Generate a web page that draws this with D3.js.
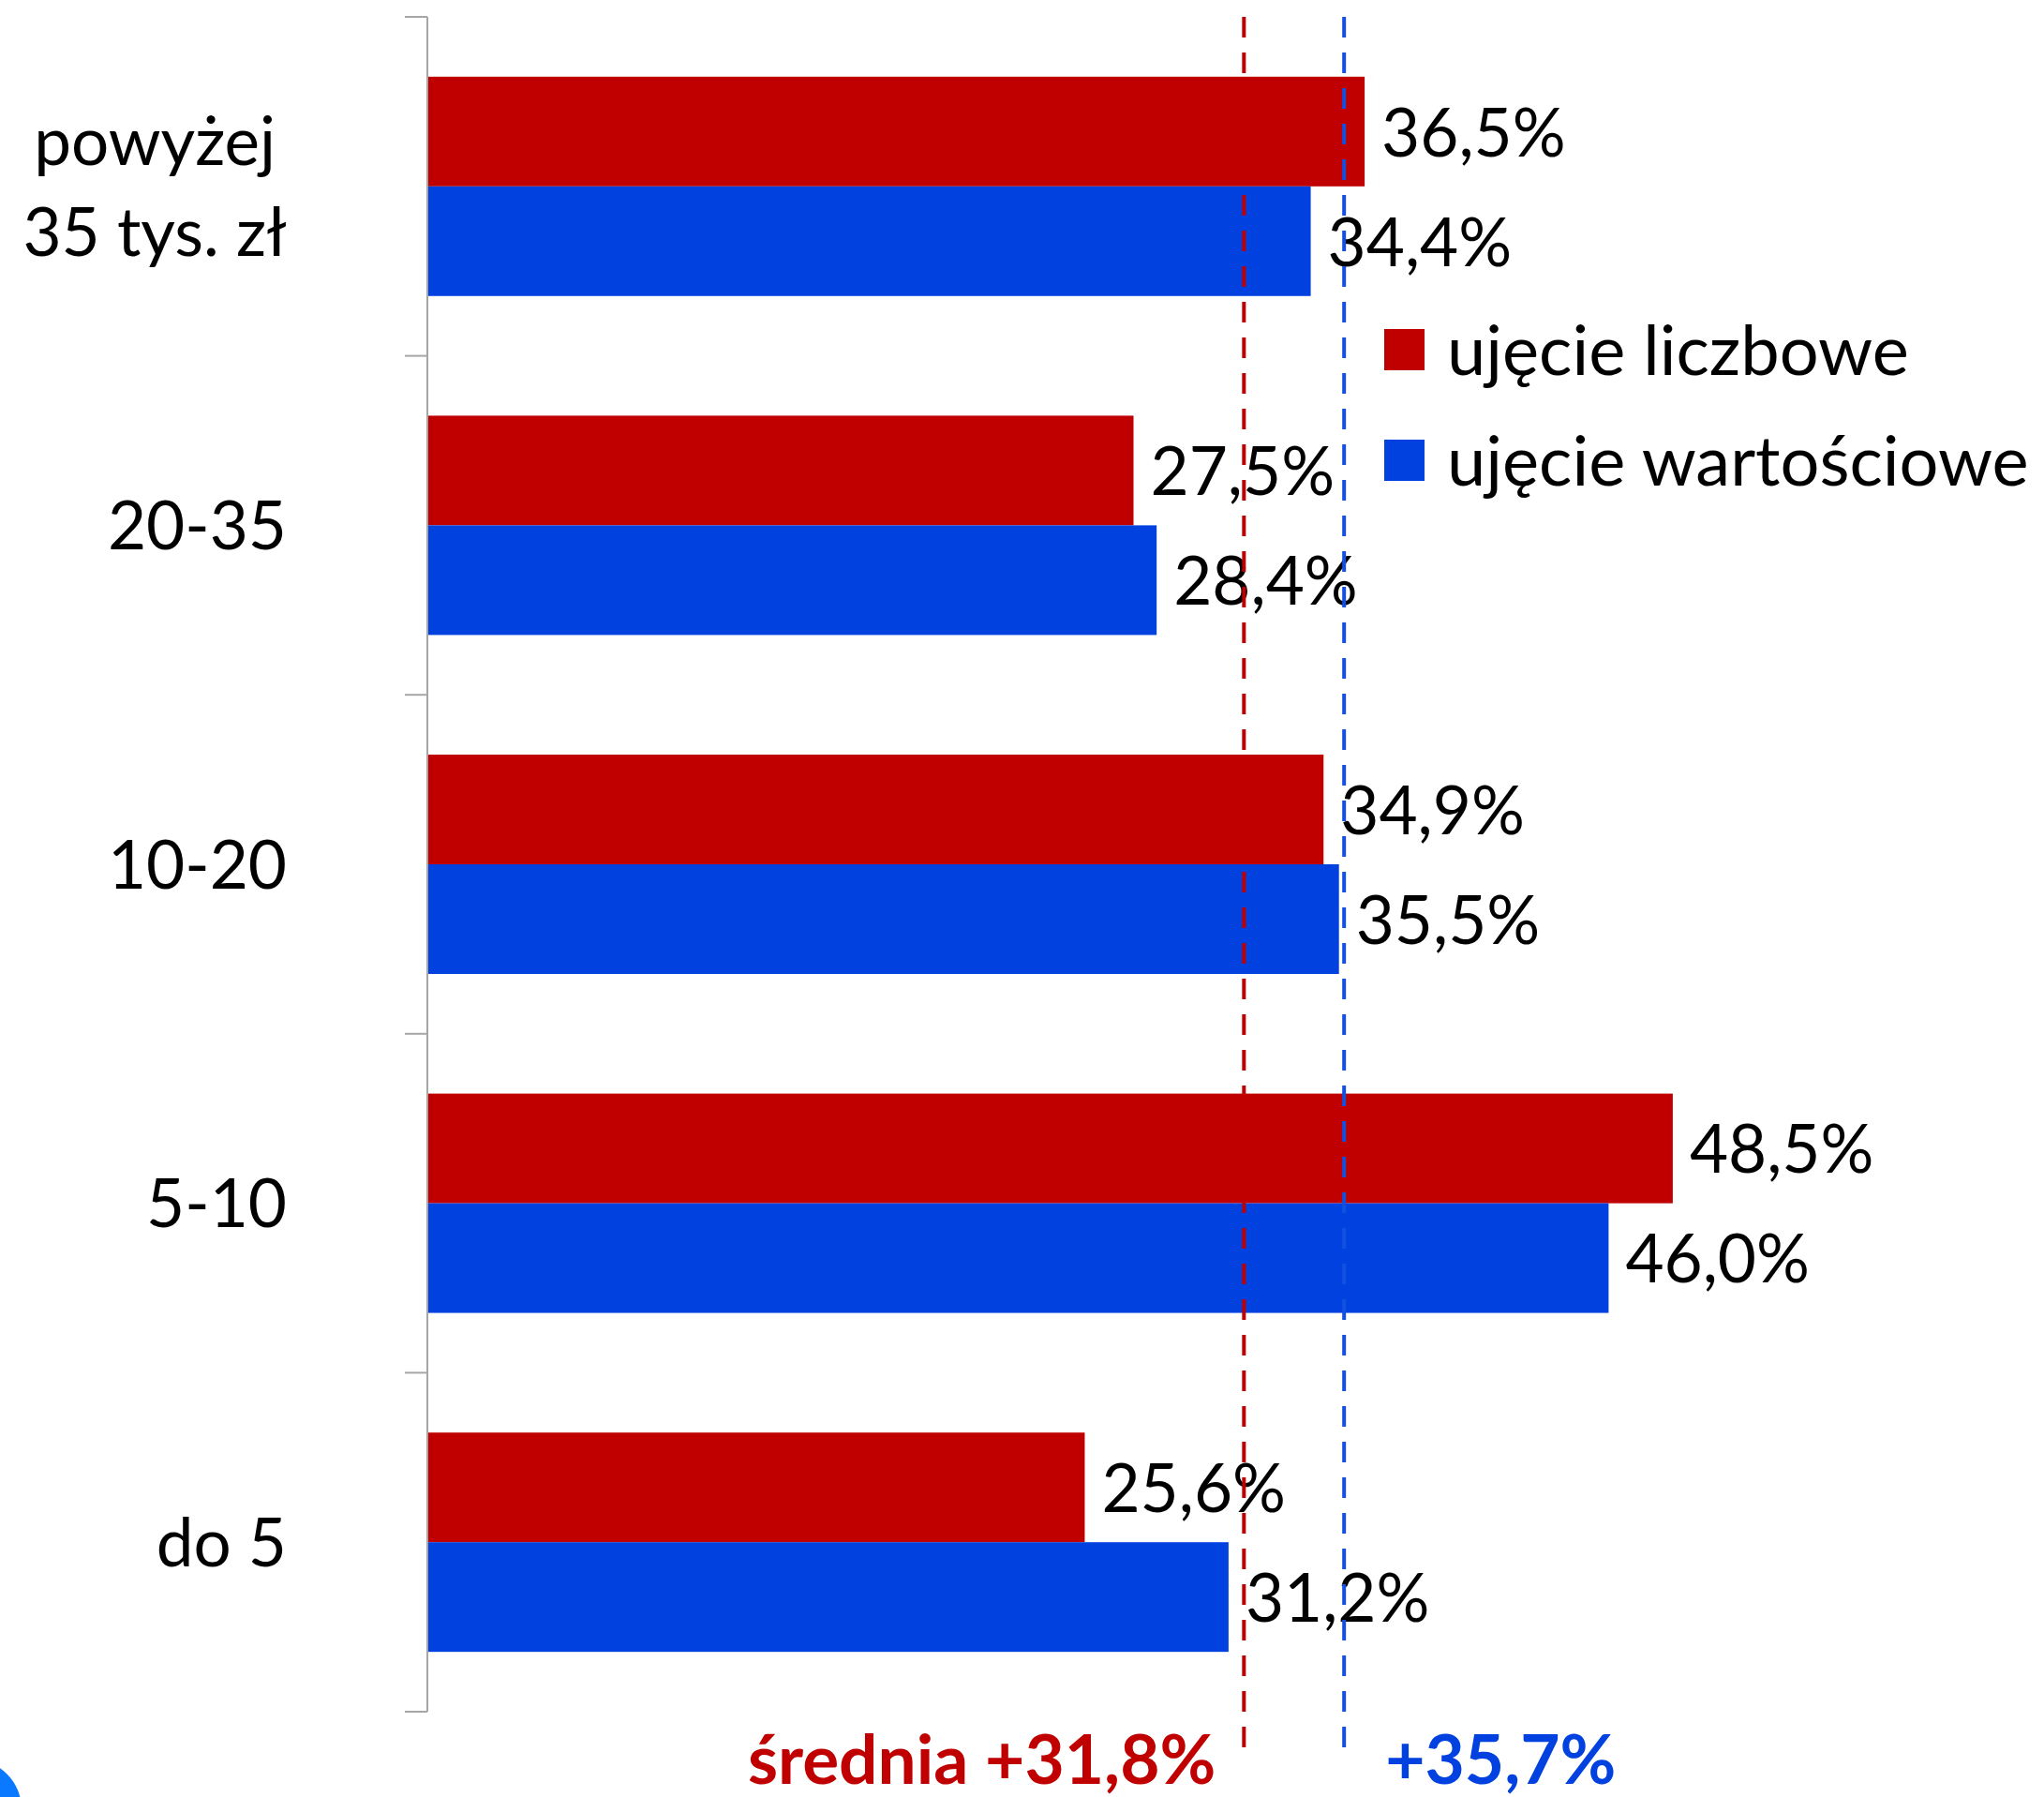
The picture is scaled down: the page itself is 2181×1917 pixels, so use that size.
<!DOCTYPE html>
<html lang="pl">
<head>
<meta charset="utf-8">
<title>Wzrost według przedziałów kwotowych</title>
<script src="https://cdn.jsdelivr.net/npm/d3@7/dist/d3.min.js"></script>
<style>
  html, body { margin: 0; padding: 0; background: #ffffff; }
  svg { display: block; }
  text { font-family: Lato, "Open Sans", "Noto Sans", sans-serif; }
</style>
</head>
<body>
<svg id="chart"></svg>
<script>
// Categories (top to bottom), each split into display lines
const categories = ["powyżej|35 tys. zł", "20-35", "10-20", "5-10", "do 5"];
// Series names
const seriesNames = ["ujęcie liczbowe", "ujęcie wartościowe"];
// Growth in numbers and in value, per category (%)
const countGrowth = [36.5, 27.5, 34.9, 48.5, 25.6];
const valueGrowth = [34.4, 28.4, 35.5, 46.0, 31.2];
// Averages for both series (%)
const averages = [31.8, 35.7];
const averageLabels = ["średnia +31,8%", "+35,7%"];

const colors = ["#c00000", "#0041e0"];
const dashColors = ["#c00000", "#1450e0"];

const W = 2181, H = 1917;
const FS = 71;          // label font size
const svg = d3.select("#chart").attr("width", W).attr("height", H);
svg.append("rect").attr("width", W).attr("height", H).attr("fill", "#ffffff");

const pl = d3.formatLocale({ decimal: ",", thousands: " ", grouping: [3], currency: ["", " zł"] });
const fmt = v => pl.format(".1f")(v) + "%";

const x = d3.scaleLinear().domain([0, 60]).range([456, 456 + 60 * 27.4]);
const y = d3.scaleBand().domain(categories).range([18, 1826])
  .paddingInner(0.353).paddingOuter(0.1765);
const ySub = d3.scaleBand().domain([0, 1]).range([0, y.bandwidth()]);

const rows = categories.map((c, i) => ({ cat: c, vals: [countGrowth[i], valueGrowth[i]] }));

// Bars
const g = svg.append("g");
rows.forEach(r => {
  r.vals.forEach((v, s) => {
    g.append("rect")
      .attr("x", x(0))
      .attr("y", y(r.cat) + ySub(s))
      .attr("width", x(v) - x(0))
      .attr("height", ySub.bandwidth())
      .attr("fill", colors[s]);
  });
});

// Value labels
rows.forEach(r => {
  r.vals.forEach((v, s) => {
    g.append("text")
      .attr("x", x(v) + 18)
      .attr("y", y(r.cat) + ySub(s) + ySub.bandwidth() / 2)
      .attr("dy", "0.37em")
      .attr("font-size", FS)
      .attr("fill", "#000")
      .text(fmt(v));
  });
});

// Category axis: line plus ticks between categories
const step = y.step();
const r0 = y.range()[0];
const axis = svg.append("g").attr("stroke", "#a6a6a6").attr("stroke-width", 2);
axis.append("line").attr("x1", x(0)).attr("x2", x(0)).attr("y1", r0).attr("y2", y.range()[1]);
d3.range(categories.length + 1).forEach(i => {
  axis.append("line").attr("x1", x(0) - 24).attr("x2", x(0))
    .attr("y1", r0 + i * step).attr("y2", r0 + i * step);
});

// Category labels (multi-line labels centred as a block, right aligned)
const labelRight = 306, lineGap = 97;
categories.forEach(c => {
  const lines = c.split("|");
  const cy = y(c) + y.bandwidth() / 2;
  const t = svg.append("text").attr("font-size", FS).attr("fill", "#000");
  if (lines.length === 1) {
    t.attr("x", labelRight).attr("y", cy).attr("dy", "0.36em")
      .attr("text-anchor", "end").text(lines[0]);
  } else {
    // measure widest line to centre lines against the right edge
    const tmp = svg.append("text").attr("font-size", FS);
    const widths = lines.map(l => { tmp.text(l); return tmp.node().getComputedTextLength(); });
    tmp.remove();
    const cx = labelRight - d3.max(widths) / 2;
    t.attr("text-anchor", "middle");
    lines.forEach((l, k) => {
      t.append("tspan").attr("x", cx)
        .attr("y", cy + (k - (lines.length - 1) / 2) * lineGap)
        .attr("dy", "0.36em").text(l);
    });
  }
});

// Legend
const legend = svg.append("g");
seriesNames.forEach((n, s) => {
  const ly = 373 + s * 118;
  legend.append("rect").attr("x", 1477).attr("y", ly - 22).attr("width", 43).attr("height", 44)
    .attr("fill", colors[s]);
  legend.append("text").attr("x", 1544).attr("y", ly).attr("dy", "0.36em")
    .attr("font-size", 74).attr("fill", "#000").text(n);
});

// Average lines (dashed), drawn over bars and labels
averages.forEach((a, s) => {
  svg.append("line")
    .attr("x1", x(a)).attr("x2", x(a))
    .attr("y1", 18).attr("y2", 1864)
    .attr("stroke", dashColors[s]).attr("stroke-width", 4)
    .attr("stroke-dasharray", "22,16");
});

// Average labels
svg.append("text").attr("x", x(averages[0]) - 30).attr("y", 1903)
  .attr("text-anchor", "end").attr("font-size", 73).attr("font-weight", 700)
  .attr("fill", colors[0]).text(averageLabels[0]);
svg.append("text").attr("x", x(averages[1]) + 44).attr("y", 1903)
  .attr("text-anchor", "start").attr("font-size", 73).attr("font-weight", 700)
  .attr("fill", colors[1]).text(averageLabels[1]);

// Corner badge fragment
svg.append("circle").attr("cx", -30).attr("cy", 1930).attr("r", 53).attr("fill", "#0a78ff");
</script>
</body>
</html>
